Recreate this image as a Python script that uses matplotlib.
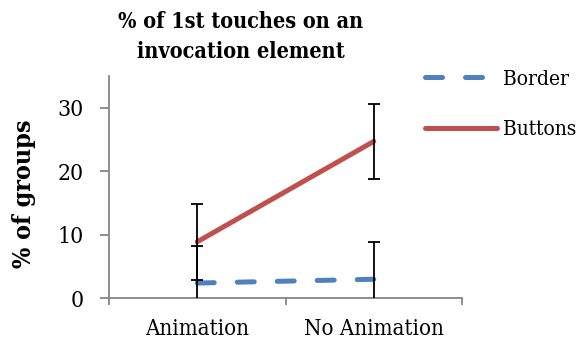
import matplotlib.pyplot as plt

categories = ['Animation', 'No Animation']
border = [2.4, 3.0]
border_err = [5.9, 5.9]
buttons = [8.9, 24.7]
buttons_err = [5.95, 5.9]

plt.rcParams['font.family'] = ['DejaVu Serif']
plt.rcParams['font.stretch'] = 'condensed'

fig = plt.figure(figsize=(5.82, 3.41), dpi=100)
ax = fig.add_axes([109 / 582, 1 - 298.3 / 341, 353 / 582, 222.3 / 341])

x = range(len(categories))
blue = '#4F81BD'
red = '#C0504D'
axis_grey = '#868686'

ax.plot(x, border, color=blue, lw=3.6, dashes=(3.4, 4.6),
        dash_capstyle='round', label='Border', zorder=2)
ax.plot(x, buttons, color=red, lw=3.6, solid_capstyle='round',
        label='Buttons', zorder=2)
ax.errorbar(x, border, yerr=border_err, fmt='none', ecolor='black',
            elinewidth=1.3, capsize=4.3, capthick=1.3, zorder=3)
ax.errorbar(x, buttons, yerr=buttons_err, fmt='none', ecolor='black',
            elinewidth=1.3, capsize=4.3, capthick=1.3, zorder=3)

ax.set_xlim(-0.5, 1.5)
ax.set_ylim(0, 35)
ax.set_yticks([0, 10, 20, 30])
ax.set_xticks([-0.5, 0.5, 1.5], minor=False)
ax.set_xticklabels([])
ax.set_xticks(list(x), minor=True)
ax.set_xticklabels(categories, minor=True)
ax.tick_params(axis='x', which='major', length=5, width=1.3,
               color=axis_grey, direction='out')
ax.tick_params(axis='x', which='minor', length=0, labelsize=16, pad=14)
ax.tick_params(axis='y', length=6.5, width=1.3, color=axis_grey,
               labelsize=16.5, pad=12)

for side in ['top', 'right']:
    ax.spines[side].set_visible(False)
for side in ['left', 'bottom']:
    ax.spines[side].set_color(axis_grey)
    ax.spines[side].set_linewidth(1.3)

ax.set_ylabel('% of groups', fontsize=18, fontweight='bold', labelpad=15)
ax.yaxis.label.set_y(0.47)

fig.text(241 / 582, 1 - 37 / 341, '% of 1st touches on an\ninvocation element',
         ha='center', va='center', fontsize=15.5, fontweight='bold',
         linespacing=1.45)

fig.legend(loc='upper left', bbox_to_anchor=(406 / 582, 1 - 51 / 341),
           frameon=False, fontsize=15, handlelength=3.45, handletextpad=0.32,
           labelspacing=1.5)

fig.savefig('out.png', dpi=100)
